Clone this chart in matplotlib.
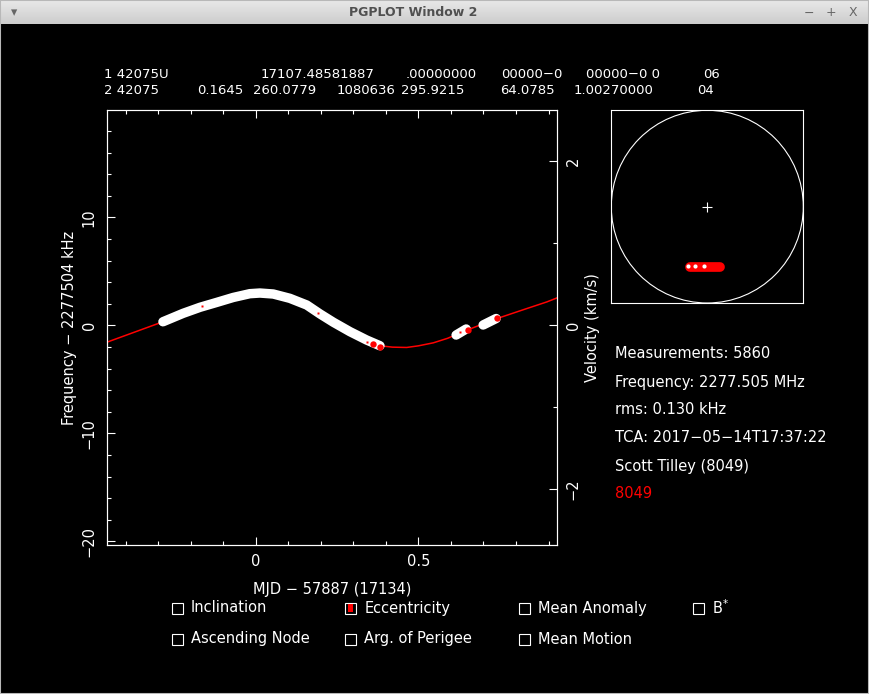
import matplotlib
matplotlib.use("Agg")
import matplotlib.pyplot as plt
import numpy as np
from matplotlib.patches import Rectangle, Circle
from matplotlib.ticker import MultipleLocator, FuncFormatter

# ---- data ----
# fitted Doppler curve, MJD - 57887 vs frequency offset (kHz)
curve_mjd = [-0.456, -0.285, -0.223, -0.171, -0.120, -0.069, -0.018, 0.013,
             0.054, 0.105, 0.157, 0.198, 0.239, 0.290, 0.341, 0.382, 0.420,
             0.464, 0.500, 0.546, 0.590, 0.628, 0.689, 0.741, 0.823, 0.895,
             0.927]
curve_freq = [-1.55, 0.33, 1.11, 1.67, 2.12, 2.58, 2.93, 2.99,
              2.90, 2.50, 1.88, 1.05, 0.28, -0.59, -1.36, -1.89, -2.02,
              -2.05, -1.90, -1.62, -1.20, -0.70, 0.02, 0.62, 1.45, 2.17,
              2.55]

# measurements (dense white band + two short passes)
pass1_mjd = [-0.285, -0.223, -0.171, -0.120, -0.069, -0.018, 0.013, 0.054,
             0.105, 0.157, 0.198, 0.239, 0.290, 0.341, 0.382]
pass1_freq = [0.33, 1.11, 1.67, 2.12, 2.58, 2.93, 2.99, 2.90,
              2.50, 1.88, 1.05, 0.28, -0.59, -1.36, -1.89]
pass2_mjd = [0.616, 0.647]
pass2_freq = [-0.90, -0.34]
pass3_mjd = [0.699, 0.739]
pass3_freq = [0.03, 0.63]

# flagged measurements (red)
flag_mjd = [0.362, 0.382, 0.654, 0.741]
flag_freq = [-1.76, -1.98, -0.44, 0.65]
flag_small_mjd = [-0.164, 0.192, 0.341, 0.628]
flag_small_freq = [1.79, 1.11, -1.52, -0.59]

# sky track (normalised polar view)
sky_track_x = [-0.184, 0.131]
sky_track_y = [-0.63, -0.63]
sky_pts_x = [-0.20, -0.13, -0.035]
sky_pts_y = [-0.62, -0.62, -0.62]

tle1_fields = ["1 42075U", "17107.48581887", ".00000000", "00000−0",
               "00000−0 0", "06"]
tle2_fields = ["2 42075", "0.1645", "260.0779", "1080636", "295.9215",
               "64.0785", "1.00270000", "04"]

info_lines = ["Measurements: 5860", "Frequency: 2277.505 MHz",
              "rms: 0.130 kHz", "TCA: 2017−05−14T17:37:22",
              "Scott Tilley (8049)"]
site_label = "8049"

checkbox_labels = [["Inclination", "Eccentricity", "Mean Anomaly", "B$^{*}$"],
                   ["Ascending Node", "Arg. of Perigee", "Mean Motion"]]
checked = "Eccentricity"

# ---- layout helpers (pixels, origin top-left) ----
W, H = 869, 694


def rect(l, t, r, b):
    return [l / W, 1 - b / H, (r - l) / W, (b - t) / H]


def ftext(px, py, s, **kw):
    kw.setdefault("color", "white")
    kw.setdefault("va", "center")
    kw.setdefault("fontsize", 10.5)
    return fig.text(px / W, 1 - py / H, s, **kw)


plt.rcParams["font.family"] = ["DejaVu Sans"]
plt.rcParams["font.size"] = 10.5
plt.rcParams["axes.unicode_minus"] = True

fig = plt.figure(figsize=(W / 100, H / 100), dpi=100, facecolor="black")

# window title bar
tb = fig.add_axes(rect(0, 0, W, 24))
tb.imshow(np.linspace(0, 1, 24)[:, None], aspect="auto",
          cmap=matplotlib.colors.LinearSegmentedColormap.from_list(
              "bar", ["#e8e8e8", "#cdcdcd"]), extent=[0, 1, 0, 1])
tb.axis("off")
ftext(413, 13, "PGPLOT Window 2", ha="center", color="#505050",
      fontsize=9, fontweight="bold")
ftext(14, 13, "▾", ha="center", color="#666666", fontsize=9)
for px, s in [(809, "−"), (831, "+"), (853, "X")]:
    ftext(px, 13, s, ha="center", color="#666666", fontsize=9)
fig.add_artist(Rectangle((0, 0), 1, 1, transform=fig.transFigure,
                         fill=False, ec="#b8b8b8", lw=1.5))

fmt = FuncFormatter(lambda v, p: f"{v:g}".replace("-", "−"))

# ---- main Doppler plot ----
ax = fig.add_axes(rect(107.3, 110.3, 557.3, 545))
ax.set_facecolor("black")
ax.plot(curve_mjd, curve_freq, color="red", lw=1.1, zorder=2)
for xs, ys in [(pass1_mjd, pass1_freq), (pass2_mjd, pass2_freq),
               (pass3_mjd, pass3_freq)]:
    ax.plot(xs, ys, color="white", lw=6.8, solid_capstyle="round",
            solid_joinstyle="round", zorder=3)
ax.plot(flag_mjd, flag_freq, "o", color="red", ms=4.6, mec="none", zorder=4)
ax.plot(flag_small_mjd, flag_small_freq, "s", color="red", ms=2,
        mec="none", zorder=4)

ax.set_xlim(-0.456, 0.927)
ax.set_ylim(-20.34, 19.91)
ax.xaxis.set_major_locator(MultipleLocator(0.5))
ax.xaxis.set_minor_locator(MultipleLocator(0.1))
ax.yaxis.set_major_locator(MultipleLocator(10))
ax.yaxis.set_minor_locator(MultipleLocator(2))
ax.xaxis.set_major_formatter(fmt)
ax.yaxis.set_major_formatter(fmt)
ax.tick_params(which="both", direction="in", colors="white", width=0.8,
               top=True, bottom=True, left=True, right=False)
ax.tick_params(which="major", length=5.8)
ax.tick_params(which="minor", length=2.9)
ax.tick_params(axis="x", pad=6.5)
ax.tick_params(axis="y", labelrotation=90, pad=7.5)
plt.setp(ax.get_yticklabels(), va="center")
for sp in ax.spines.values():
    sp.set_color("white")
    sp.set_linewidth(0.8)

ax.set_xlabel("MJD − 57887 (17134)", color="white", va="center")
ax.xaxis.set_label_coords(0.5, -0.102)
ax.set_ylabel("Frequency − 2277504 kHz", color="white", va="center")
ax.yaxis.set_label_coords(-0.0845, 0.5)

ax2 = ax.twinx()
ax2.set_ylim(-2.679, 2.622)
ax2.yaxis.set_major_locator(MultipleLocator(2))
ax2.yaxis.set_minor_locator(MultipleLocator(1))
ax2.yaxis.set_major_formatter(fmt)
ax2.tick_params(which="both", direction="in", colors="white", width=0.8,
                right=True, left=False)
ax2.tick_params(which="major", length=5.8)
ax2.tick_params(which="minor", length=2.9)
ax2.tick_params(axis="y", labelrotation=90, pad=6)
plt.setp(ax2.get_yticklabels(), va="center")
for sp in ax2.spines.values():
    sp.set_color("white")
    sp.set_linewidth(0.8)
ax2.set_ylabel("Velocity (km/s)", color="white", va="center")
ax2.yaxis.set_label_coords(1.0785, 0.5)

# ---- sky view ----
sk = fig.add_axes(rect(611.3, 110.3, 803.3, 303))
sk.set_facecolor("black")
sk.set_xlim(-1, 1)
sk.set_ylim(-1, 1)
sk.set_xticks([])
sk.set_yticks([])
for sp in sk.spines.values():
    sp.set_color("white")
    sp.set_linewidth(0.8)
sk.add_patch(Circle((0, 0), 1, fill=False, ec="white", lw=0.8))
sk.plot([0], [0], "+", color="white", ms=7, mew=0.8)
sk.plot(sky_track_x, sky_track_y, color="red", lw=7,
        solid_capstyle="round")
sk.plot(sky_pts_x, sky_pts_y, "o", color="white", ms=3, mec="none")

# ---- header / info text ----
for s, px in zip(tle1_fields, [104, 260.9, 406, 501.3, 586, 703.2]):
    ftext(px, 74, s, fontsize=9.5)
for s, px in zip(tle2_fields, [104, 197, 253, 337, 401.5, 500, 574, 697]):
    ftext(px, 90, s, fontsize=9.5)

for s, py in zip(info_lines, [354, 382, 410, 437.5, 466]):
    ftext(615, py, s)
ftext(615, 493.5, site_label, color="red")

# ---- check boxes ----
box_x = [171.5, 344.8, 519, 693]
row_y = [608, 639]
for row, labels in enumerate(checkbox_labels):
    for col, lab in enumerate(labels):
        bx, by = box_x[col], row_y[row]
        fig.add_artist(Rectangle((bx / W, 1 - (by + 5.5) / H), 11 / W,
                                 11 / H, transform=fig.transFigure,
                                 fill=False, ec="white", lw=0.8))
        if lab == checked:
            fig.add_artist(Rectangle(((bx + 3.5) / W, 1 - (by + 4) / H),
                                     4.5 / W, 8 / H,
                                     transform=fig.transFigure,
                                     color="red", lw=0))
        ftext(bx + 19.5, by, lab)

fig.savefig("out.png", dpi=100, facecolor="black")
